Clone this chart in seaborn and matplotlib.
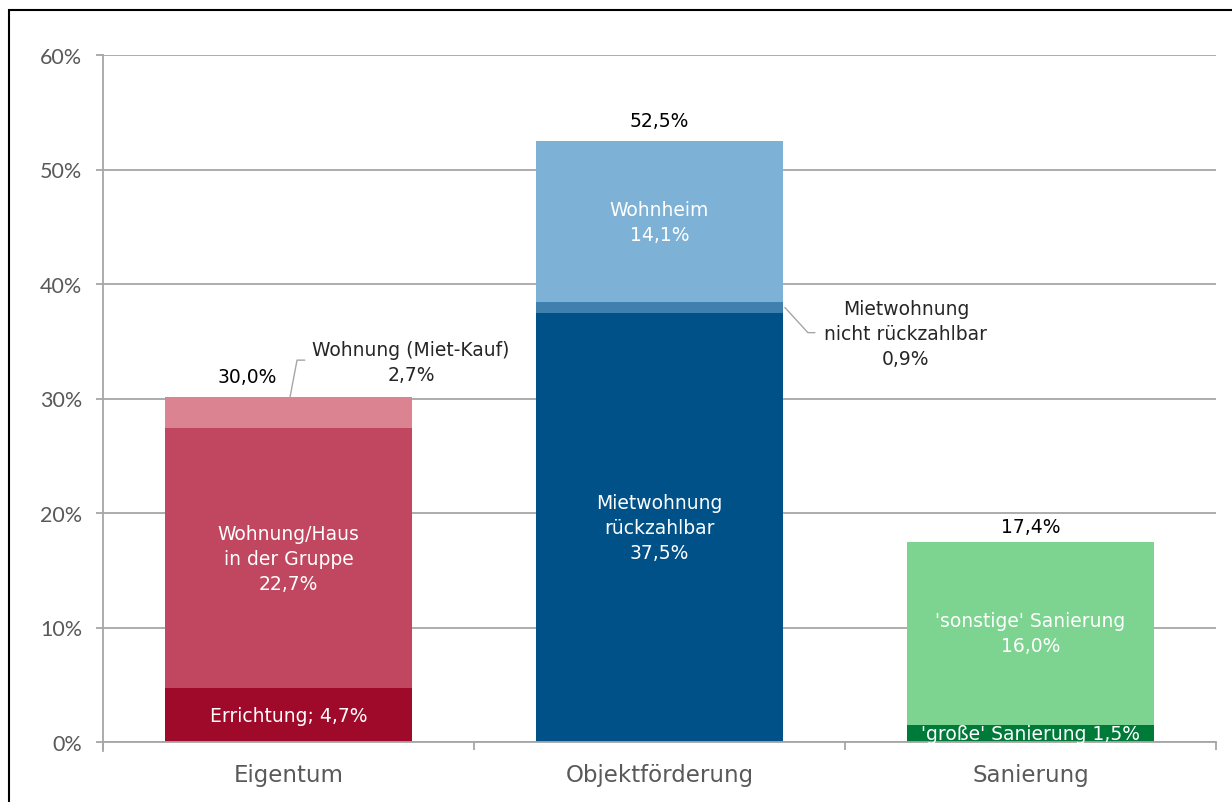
import pandas as pd
import matplotlib.pyplot as plt
import seaborn as sns
import numpy as np
from matplotlib.patches import Rectangle

# Values per category, stacked from bottom to top
categories = ["Eigentum", "Objektförderung", "Sanierung"]
layer_values = [
    [4.7, 37.5, 1.5],    # Errichtung / Mietwohnung rückzahlbar / 'große' Sanierung
    [22.7, 0.9, 16.0],   # Wohnung/Haus / Mietwohnung nicht rückzahlbar / 'sonstige' Sanierung
    [2.7, 14.1, 0.0],    # Wohnung (Miet-Kauf) / Wohnheim / -
]
layer_colors = [
    ["#A00A2A", "#005187", "#007A38"],
    ["#C0475F", "#3F80AE", "#7DD390"],
    ["#DC8392", "#7DB2D6", "#FFFFFF"],
]
total_labels = ["30,0%", "52,5%", "17,4%"]
yticks = [0, 10, 20, 30, 40, 50, 60]
ytick_labels = ["0%", "10%", "20%", "30%", "40%", "50%", "60%"]

# Segment labels inside the bars: (category index, layer index, text)
inner_labels = [
    (0, 0, "Errichtung; 4,7%"),
    (0, 1, "Wohnung/Haus\nin der Gruppe\n22,7%"),
    (1, 0, "Mietwohnung\nrückzahlbar\n37,5%"),
    (1, 2, "Wohnheim\n14,1%"),
    (2, 0, "'große' Sanierung 1,5%"),
    (2, 1, "'sonstige' Sanierung\n16,0%"),
]

sns.set_theme(style="white")
plt.rcParams["font.family"] = ["DejaVu Sans"]

fig = plt.figure(figsize=(12.32, 8.03), dpi=100)
ax = fig.add_axes([103 / 1232, 60 / 803, 1113 / 1232, 687 / 803])

bar_w = 0.668
cum = np.cumsum(np.array(layer_values), axis=0)

# draw cumulative tops first, lower layers over them
for k in range(len(layer_values) - 1, -1, -1):
    df = pd.DataFrame({"cat": categories, "top": cum[k]})
    pal = dict(zip(categories, layer_colors[k]))
    sns.barplot(data=df, x="cat", y="top", hue="cat", palette=pal, order=categories,
                hue_order=categories, width=bar_w, saturation=1, legend=False,
                edgecolor="none", linewidth=0, ax=ax, zorder=3)

ax.set_xlim(-0.5, 2.5)
ax.set_ylim(0, 60)
ax.set_yticks(yticks)
ax.set_yticklabels(ytick_labels)
ax.set_xlabel("")
ax.set_ylabel("")

grid_c = "#A6A6A6"
ax.yaxis.grid(True, color=grid_c, linewidth=1.3, zorder=0)
ax.xaxis.grid(False)
for s in ["top", "right"]:
    ax.spines[s].set_visible(False)
for s in ["left", "bottom"]:
    ax.spines[s].set_color(grid_c)
    ax.spines[s].set_linewidth(1.3)
    ax.spines[s].set_zorder(4)
ax.spines["left"].set_bounds(-0.8, 60)
ax.set_ylim(0, 60)

ax.tick_params(axis="y", direction="out", length=5, width=1.3, color=grid_c,
               pad=10, labelsize=15.5, labelcolor="#595959", left=True,
               labelfontfamily="Lato")
ax.set_xticks([-0.5, 0.5, 1.5, 2.5], minor=True)
ax.tick_params(axis="x", which="minor", direction="out", length=6, width=1.3,
               color=grid_c, bottom=True)
ax.tick_params(axis="x", which="major", length=0, pad=15, labelsize=16.5,
               labelcolor="#595959")

txt_size = 13.5
lsp = 1.4
# totals above bars (the first one sits left of the leader line)
total_offsets = [(-30, 8), (0, 8), (0, 4)]
for i, lab in enumerate(total_labels):
    ax.annotate(lab, xy=(i, cum[-1][i]), xytext=total_offsets[i],
                textcoords="offset points", ha="center", va="bottom",
                fontsize=txt_size, color="black", zorder=5)

# labels inside segments
for i, k, lab in inner_labels:
    base = cum[k - 1][i] if k > 0 else 0
    mid = base + layer_values[k][i] / 2
    ax.text(i, mid, lab, ha="center", va="center", color="white",
            fontsize=txt_size, linespacing=lsp, zorder=5)

# callout: Wohnung (Miet-Kauf)
lead_c = "#A6A6A6"
x0, y0 = 0.004, cum[2][0]
ax.plot([x0, x0 + 0.019, x0 + 0.04], [y0, y0 + 3.25, y0 + 3.25],
        color=lead_c, lw=1, zorder=5, clip_on=False)
ax.text(0.33, y0 + 3.1, "Wohnung (Miet-Kauf)\n2,7%", ha="center", va="center",
        fontsize=txt_size, linespacing=lsp, zorder=5)

# callout: Mietwohnung nicht rückzahlbar
x1 = 1 + bar_w / 2 + 0.004
y1 = cum[0][1] + layer_values[1][1] / 2
ax.plot([x1, x1 + 0.062, x1 + 0.081], [y1, y1 - 2.2, y1 - 2.2],
        color=lead_c, lw=1, zorder=5, clip_on=False)
ax.text(1.664, y1 - 2.3, "Mietwohnung\nnicht rückzahlbar\n0,9%", ha="center",
        va="center", fontsize=txt_size, linespacing=lsp, zorder=5)

# frame around the chart area
fig.patches.append(Rectangle((9 / 1232, -0.05), 1.1, (792 / 803) + 0.05,
                             transform=fig.transFigure, fill=False,
                             edgecolor="black", linewidth=1.5))

fig.savefig("out.png", dpi=100)
